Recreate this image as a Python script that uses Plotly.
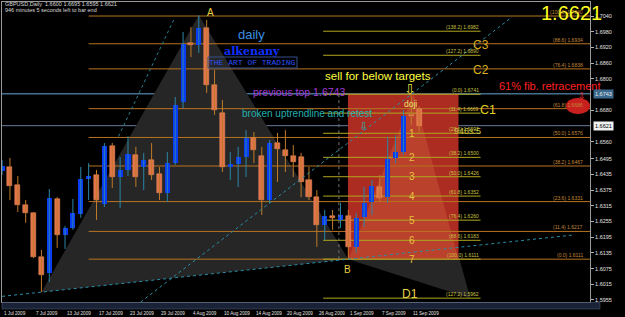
import plotly.graph_objects as go

# ---------------- data ----------------
bar_index = list(range(54))
opens = [1.6448,1.6463,1.6394,1.6318,1.6288,1.6119,1.6058,1.6341,1.6204,1.6231,
         1.6284,1.6417,1.6433,1.6322,1.6543,1.6425,1.6452,1.6509,1.6463,1.6490,
         1.6436,1.6364,1.6478,1.6711,1.6937,1.6929,1.6994,1.6776,1.6669,1.6463,
         1.6475,1.6501,1.6574,1.6505,1.6337,1.6555,1.6528,1.6505,1.6501,1.6413,
         1.6348,1.6242,1.6277,1.6261,1.6277,1.6158,1.6273,1.6329,1.6387,1.6348,
         1.6498,1.6520,1.6662,1.6685]
highs = [1.6490,1.6498,1.6429,1.6337,1.6291,1.6146,1.6379,1.6348,1.6238,1.6341,
         1.6463,1.6478,1.6452,1.6555,1.6555,1.6501,1.6581,1.6540,1.6517,1.6555,
         1.6463,1.6520,1.6731,1.6979,1.6998,1.7043,1.7025,1.6834,1.6719,1.6520,
         1.6540,1.6604,1.6597,1.6540,1.6566,1.6593,1.6604,1.6547,1.6517,1.6463,
         1.6375,1.6299,1.6299,1.6326,1.6299,1.6288,1.6387,1.6413,1.6433,1.6578,
         1.6585,1.6681,1.6743,1.6695]
lows = [1.6433,1.6337,1.6291,1.6250,1.6115,1.5985,1.6024,1.6154,1.6150,1.6223,
        1.6269,1.6337,1.6261,1.6310,1.6383,1.6307,1.6429,1.6387,1.6375,1.6413,
        1.6337,1.6329,1.6471,1.6688,1.6883,1.6899,1.6746,1.6662,1.6444,1.6413,
        1.6387,1.6425,1.6478,1.6280,1.6326,1.6406,1.6444,1.6425,1.6348,1.6337,
        1.6158,1.6184,1.6223,1.6230,1.6111,1.6135,1.6234,1.6280,1.6329,1.6326,
        1.6478,1.6509,1.6624,1.6595]
closes = [1.6467,1.6390,1.6318,1.6288,1.6119,1.6050,1.6345,1.6204,1.6231,1.6288,
          1.6417,1.6429,1.6337,1.6543,1.6425,1.6452,1.6513,1.6425,1.6490,1.6433,
          1.6364,1.6478,1.6700,1.6933,1.6929,1.6994,1.6776,1.6681,1.6463,1.6475,
          1.6501,1.6574,1.6528,1.6337,1.6555,1.6532,1.6505,1.6482,1.6406,1.6348,
          1.6242,1.6277,1.6269,1.6280,1.6158,1.6269,1.6326,1.6390,1.6345,1.6494,
          1.6520,1.6658,1.6658,1.6621]

date_tick_idx = [0, 4, 8, 12, 16, 20, 24, 28, 32, 36, 40, 44, 48, 52]
date_tick_text = ["1 Jul 2009", "7 Jul 2009", "13 Jul 2009", "17 Jul 2009", "23 Jul 2009",
                  "29 Jul 2009", "4 Aug 2009", "10 Aug 2009", "14 Aug 2009", "20 Aug 2009",
                  "26 Aug 2009", "1 Sep 2009", "7 Sep 2009", "11 Sep 2009"]

price_ticks = [1.7040, 1.6980, 1.6920, 1.6860, 1.6800, 1.6680, 1.6560, 1.6495, 1.6435,
               1.6375, 1.6315, 1.6255, 1.6195, 1.6135, 1.6075, 1.6015, 1.5955]

fib_main_levels = ["100.0", "88.6", "76.4", "61.8", "50.0", "38.2", "23.6", "11.4", "0.0"]
fib_main_prices = [1.7040, 1.6934, 1.6838, 1.6686, 1.6576, 1.6467, 1.6331, 1.6217, 1.6111]

fib_tgt_levels = ["138.2", "127.2", "0.0", "11.4", "23.6", "38.2", "50.0", "61.8",
                  "76.4", "88.6", "100.0", "127.2"]
fib_tgt_prices = [1.6982, 1.6890, 1.6741, 1.6669, 1.6592, 1.6500, 1.6426, 1.6352,
                  1.6260, 1.6183, 1.6111, 1.5962]
target_labels = ["1", "2", "3", "4", "5", "6", "7"]
target_prices = [1.6592, 1.6500, 1.6426, 1.6352, 1.6260, 1.6183, 1.6111]

previous_top = 1.6743
current_price = 1.6621

# pattern pivots (bar index, price)
pt_X = (5, lows[5])
pt_A = (25, highs[25])
pt_B = (44, lows[44])
pt_C = (52.3, previous_top)
pt_D = (59.5, 1.5962)
sell_box = (44, 58)          # bar range of the red sell zone
uptrend_pts = [(17.6, 1.5947), (64.8, 1.7036)]
steep_pts = [(14.8, 1.6580), (21.8, 1.7025)]

# ---------------- geometry helpers ----------------
W, H = 625, 317
L, R, T, BOT = 2, 590, 2, 302
XR = [-0.01, 74.71]
YR = [1.59473, 1.70936]

def PX(x):
    return (x - L) / (R - L)

def PY(y):
    return (BOT - y) / (BOT - T)

fig = go.Figure()

def wick_trace(sel, color):
    xs, ys = [], []
    for i in sel:
        xs += [i, i, None]
        ys += [lows[i], highs[i], None]
    return go.Scatter(x=xs, y=ys, mode="lines", line=dict(color=color, width=1),
                      hoverinfo="skip", showlegend=False)

up = [i for i in bar_index if closes[i] > opens[i]]
dn = [i for i in bar_index if closes[i] <= opens[i]]
fig.add_trace(wick_trace(up, "#2A86A8"))
fig.add_trace(wick_trace(dn, "#C07A28"))
fig.add_trace(go.Bar(x=up, base=[opens[i] for i in up],
                     y=[max(closes[i] - opens[i], 0.00015) for i in up],
                     width=0.64, marker=dict(color="#0A3CF5", line=dict(width=0)),
                     showlegend=False, hoverinfo="skip"))
fig.add_trace(go.Bar(x=dn, base=[closes[i] for i in dn],
                     y=[max(opens[i] - closes[i], 0.00015) for i in dn],
                     width=0.64, marker=dict(color="#E2734B", line=dict(color="#F09060", width=0.5)),
                     showlegend=False, hoverinfo="skip"))

shapes = []
def tri(p1, p2, p3, color):
    return dict(type="path", xref="x", yref="y", layer="below",
                path=f"M {p1[0]},{p1[1]} L {p2[0]},{p2[1]} L {p3[0]},{p3[1]} Z",
                fillcolor=color, line=dict(width=0))

shapes.append(tri(pt_X, pt_A, pt_B, "#262626"))
shapes.append(tri(pt_B, pt_C, pt_D, "#262626"))
shapes.append(dict(type="rect", xref="x", yref="y", layer="below",
                   x0=sell_box[0] - 0.05, x1=sell_box[1], y0=pt_B[1], y1=previous_top,
                   fillcolor="#AC2C22", line=dict(width=0)))
t = (pt_C[1] - pt_B[1]) / (pt_C[1] - pt_D[1])
ex = pt_C[0] + t * (pt_D[0] - pt_C[0])
ex = min(ex, sell_box[1])
shapes.append(dict(type="path", xref="x", yref="y", layer="below",
                   path=f"M {pt_B[0]},{pt_B[1]} L {pt_C[0]},{pt_C[1]} L {ex},{pt_B[1]} Z",
                   fillcolor="#BA412C", line=dict(width=0)))

for p in fib_main_prices:
    shapes.append(dict(type="line", xref="x", yref="y", layer="below", x0=11, x1=XR[1],
                       y0=p, y1=p, line=dict(color="#B87420", width=1)))
for p in fib_tgt_prices:
    shapes.append(dict(type="line", xref="x", yref="y", layer="below", x0=40.8, x1=60.8,
                       y0=p, y1=p, line=dict(color="#B0A820", width=1)))
shapes.append(dict(type="line", xref="paper", yref="y", layer="below", x0=0, x1=1,
                   y0=previous_top, y1=previous_top, line=dict(color="#44708E", width=1.5)))
shapes.append(dict(type="line", xref="paper", yref="y", layer="below", x0=0, x1=1,
                   y0=current_price, y1=current_price, line=dict(color="#6A7C9C", width=1)))
shapes.append(dict(type="line", xref="x", yref="y", x0=uptrend_pts[0][0], y0=uptrend_pts[0][1],
                   x1=uptrend_pts[1][0], y1=uptrend_pts[1][1],
                   line=dict(color="#2A8EA6", width=1, dash="dot")))
shapes.append(dict(type="line", xref="x", yref="y", x0=steep_pts[0][0], y0=steep_pts[0][1],
                   x1=steep_pts[1][0], y1=steep_pts[1][1],
                   line=dict(color="#2A7E96", width=1, dash="dot")))
slope = (pt_B[1] - pt_X[1]) / (pt_B[0] - pt_X[0])
xb0, xb1 = 0.0, 72.6
shapes.append(dict(type="line", xref="x", yref="y",
                   x0=xb0, y0=pt_X[1] + slope * (xb0 - pt_X[0]),
                   x1=xb1, y1=pt_X[1] + slope * (xb1 - pt_X[0]),
                   line=dict(color="#2A8EA6", width=1, dash="dot")))
shapes.append(dict(type="line", xref="x", yref="y", x0=42.8, x1=42.8, y0=pt_B[1], y1=previous_top,
                   line=dict(color="#707070", width=1, dash="dot")))
shapes.append(dict(type="circle", xref="paper", yref="paper",
                   x0=PX(566), x1=PX(590), y0=PY(114), y1=PY(98),
                   fillcolor="#C8201E", line=dict(width=0)))
shapes.append(dict(type="rect", xref="paper", yref="paper",
                   x0=PX(208), x1=PX(297), y0=PY(68), y1=PY(57),
                   line=dict(color="#34508A", width=1)))
shapes.append(dict(type="rect", xref="paper", yref="paper",
                   x0=PX(2), x1=PX(600), y0=PY(309), y1=PY(302.5),
                   fillcolor="#1A2238", line=dict(color="#50607A", width=0.5)))

ann = []
def txt(x, y, s, size, color, xa="center", ya="middle", family="Liberation Sans", **kw):
    ann.append(dict(x=PX(x), y=PY(y), xref="paper", yref="paper", text=s, showarrow=False,
                    xanchor=xa, yanchor=ya, font=dict(size=size, color=color, family=family), **kw))

txt(3, 4.5, "GBPUSD,Daily  1.6600 1.6695 1.6595 1.6621", 5.5, "#D8D8D8", xa="left")
txt(3, 10.5, "946 minutes 5 seconds left to bar end", 5.5, "#D8D8D8", xa="left")
txt(210, 13, "A", 10, "#E8D040")
txt(252, 34, "daily", 13, "#3A8FE0")
txt(252, 51, "<b>alkenany</b>", 11, "#1030FF", family="DejaVu Serif")
txt(253, 62.5, "THE ART OF TRADING", 8, "#2A50FF", family="Liberation Mono")
txt(378, 76, "sell for below targets", 11.5, "#FFFF40")
txt(299, 91.5, "previous top 1.6743", 10.5, "#A23BD6")
txt(307, 114, "broken uptrendline and retest", 10, "#22B0B0")
txt(363, 127, "⇩", 11, "#22B0B0", family="DejaVu Sans")
txt(410, 89, "⇩", 14, "#E8E040", family="DejaVu Sans")
txt(410, 104, "doji", 8.5, "#F0E070")
txt(481, 45, "C3", 12, "#D8A820")
txt(481, 70, "C2", 12, "#D8B020")
txt(488, 110, "C1", 12.5, "#E0D020")
txt(550, 86.5, "61% fib. retracement", 11, "#FF2020")
txt(582, 96, "⇩", 9, "#FF3030", family="DejaVu Sans")
txt(571, 13, "1.6621", 20, "#FFFF20")
txt(467, 131, "946s:5", 9, "#C8C040")
txt(347, 269, "B", 10, "#E8D040")
txt(410, 294, "D1", 12, "#E8D040")

for lev, p in zip(fib_main_levels, fib_main_prices):
    ann.append(dict(x=PX(585), xref="paper", y=p, yref="y", text=f"({lev}) {p:.4f}",
                    showarrow=False, xanchor="right", yanchor="bottom", yshift=-1,
                    font=dict(size=5, color="#C08838", family="Liberation Sans")))
for lev, p in zip(fib_tgt_levels, fib_tgt_prices):
    ann.append(dict(x=60.8, xref="x", y=p, yref="y", text=f"({lev}) {p:.4f}",
                    showarrow=False, xanchor="right", yanchor="bottom", yshift=-1,
                    font=dict(size=5, color="#C8C040", family="Liberation Sans")))
for lab, p in zip(target_labels, target_prices):
    ann.append(dict(x=52.1, xref="x", y=p, yref="y", text=lab, showarrow=False,
                    xanchor="center", yanchor="middle",
                    font=dict(size=10, color="#E8C040", family="Liberation Sans")))
for i, s in zip(date_tick_idx, date_tick_text):
    ann.append(dict(x=i, xref="x", y=0, yref="paper", text=s, showarrow=False,
                    xanchor="left", yanchor="top", yshift=-6.5, xshift=0,
                    font=dict(size=4.6, color="#E0E0E0", family="Liberation Sans")))
ann.append(dict(x=1, xref="paper", y=previous_top, yref="y", text=f"{previous_top:.4f}",
                showarrow=False, xanchor="left", xshift=3, bgcolor="#3B6A8E", borderpad=1,
                font=dict(size=5.5, color="#E8E8E8", family="Liberation Sans")))
ann.append(dict(x=1, xref="paper", y=current_price, yref="y", text=f"{current_price:.4f}",
                showarrow=False, xanchor="left", xshift=3, bgcolor="#F0F0F0", borderpad=1,
                font=dict(size=5.5, color="#000000", family="Liberation Sans")))

fig.update_layout(
    width=W, height=H,
    margin=dict(l=L, r=W - R, t=T, b=H - BOT),
    paper_bgcolor="#000000", plot_bgcolor="#000000",
    barmode="overlay", bargap=0, showlegend=False,
    shapes=shapes, annotations=ann,
    xaxis=dict(range=XR, showgrid=False, zeroline=False, showticklabels=False,
               tickvals=date_tick_idx, ticks="outside", ticklen=2, tickcolor="#B0B0B0",
               showline=True, linecolor="#9A9A9A", linewidth=1, mirror=True, fixedrange=True),
    yaxis=dict(range=YR, side="right", showgrid=False, zeroline=False,
               tickvals=price_ticks, ticktext=[f"{v:.4f}" for v in price_ticks],
               tickfont=dict(size=5.5, color="#E0E0E0", family="Liberation Sans"),
               ticks="outside", ticklen=3, tickcolor="#B0B0B0",
               showline=True, linecolor="#9A9A9A", linewidth=1, mirror=True, fixedrange=True),
)

fig.write_html("out.html")
